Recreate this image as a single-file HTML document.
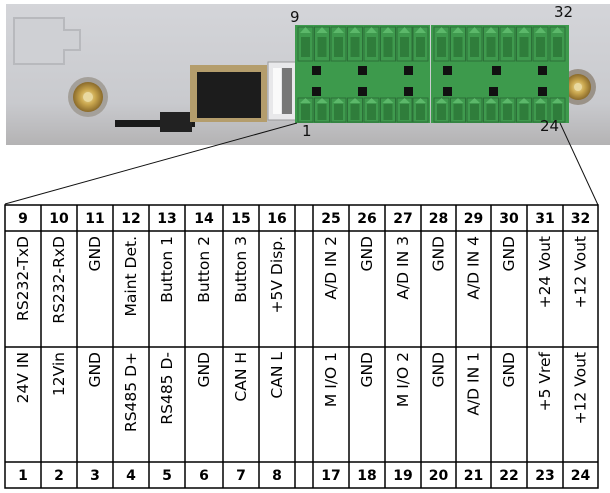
<!DOCTYPE html>
<html><head><meta charset="utf-8"><style>
html,body{margin:0;padding:0;background:#fff;}
svg{display:block;}
</style></head><body>
<svg width="610" height="493" viewBox="0 0 610 493" xmlns="http://www.w3.org/2000/svg" font-family="DejaVu Sans, Liberation Sans, sans-serif">
<defs>
<linearGradient id="bg" x1="0" y1="0" x2="0" y2="1">
<stop offset="0" stop-color="#d4d5d9"/><stop offset="0.7" stop-color="#c9cace"/><stop offset="1" stop-color="#b4b3b4"/>
</linearGradient>
<radialGradient id="sma"><stop offset="0" stop-color="#f3e2a0"/><stop offset="0.5" stop-color="#c9a64e"/><stop offset="1" stop-color="#8a6a2a"/></radialGradient>
<g id="pin"><rect x="0" y="0" width="15" height="34" fill="#3f9a4e" stroke="#2c7038" stroke-width="1"/><polygon points="7.5,0 2,6 13,6" fill="#5cb86a"/><rect x="3" y="10" width="9" height="20" fill="#2f7d3b"/></g>
<g id="pinb"><rect x="0" y="0" width="15" height="24" fill="#3f9a4e" stroke="#2c7038" stroke-width="1"/><polygon points="7.5,0 2,5 13,5" fill="#5cb86a"/><rect x="3" y="6" width="9" height="16" fill="#2f7d3b"/></g>
</defs>
<rect x="6" y="4" width="604" height="141" fill="url(#bg)"/>
<path d="M14,18 h50 v12 h16 v20 h-16 v14 h-50 z" fill="#cfd0d4" stroke="#b8b9bd" stroke-width="2"/>
<circle cx="88" cy="97" r="20" fill="#a4a09a"/>
<circle cx="88" cy="97" r="15" fill="url(#sma)"/><circle cx="88" cy="97" r="5" fill="#e9d9a0"/>
<circle cx="578" cy="87" r="18" fill="#9a9288"/>
<circle cx="578" cy="87" r="13" fill="url(#sma)"/><circle cx="578" cy="87" r="4" fill="#e9d9a0"/>
<rect x="115" y="120" width="80" height="7" fill="#1a1a1a"/>
<rect x="160" y="112" width="32" height="20" fill="#222"/>
<rect x="190" y="65" width="77" height="57" fill="#b49d6c"/>
<rect x="197" y="72" width="64" height="46" fill="#1c1c1c"/>
<rect x="268" y="62" width="28" height="58" fill="#e8e8ea" stroke="#999" stroke-width="1"/>
<rect x="273" y="68" width="8" height="46" fill="#fafafa"/>
<rect x="282" y="68" width="10" height="46" fill="#777"/>
<rect x="295" y="25" width="135" height="98" fill="#3d9a4c"/>
<rect x="431" y="25" width="138" height="98" fill="#3d9a4c"/>
<g>
<use href="#pin" x="298" y="27"/><use href="#pin" x="314.5" y="27"/><use href="#pin" x="331" y="27"/><use href="#pin" x="347.5" y="27"/><use href="#pin" x="364" y="27"/><use href="#pin" x="380.5" y="27"/><use href="#pin" x="397" y="27"/><use href="#pin" x="413" y="27"/>
<use href="#pin" x="434" y="27"/><use href="#pin" x="450.5" y="27"/><use href="#pin" x="467" y="27"/><use href="#pin" x="483.5" y="27"/><use href="#pin" x="500" y="27"/><use href="#pin" x="516.5" y="27"/><use href="#pin" x="533" y="27"/><use href="#pin" x="550" y="27"/>
<use href="#pinb" x="298" y="98"/><use href="#pinb" x="314.5" y="98"/><use href="#pinb" x="331" y="98"/><use href="#pinb" x="347.5" y="98"/><use href="#pinb" x="364" y="98"/><use href="#pinb" x="380.5" y="98"/><use href="#pinb" x="397" y="98"/><use href="#pinb" x="413" y="98"/>
<use href="#pinb" x="434" y="98"/><use href="#pinb" x="450.5" y="98"/><use href="#pinb" x="467" y="98"/><use href="#pinb" x="483.5" y="98"/><use href="#pinb" x="500" y="98"/><use href="#pinb" x="516.5" y="98"/><use href="#pinb" x="533" y="98"/><use href="#pinb" x="550" y="98"/>
</g>
<g fill="#111">
<rect x="312" y="66" width="9" height="9"/><rect x="358" y="66" width="9" height="9"/><rect x="404" y="66" width="9" height="9"/>
<rect x="443" y="66" width="9" height="9"/><rect x="492" y="66" width="9" height="9"/><rect x="538" y="66" width="9" height="9"/>
<rect x="312" y="87" width="9" height="9"/><rect x="358" y="87" width="9" height="9"/><rect x="404" y="87" width="9" height="9"/>
<rect x="443" y="87" width="9" height="9"/><rect x="489" y="87" width="9" height="9"/><rect x="538" y="87" width="9" height="9"/>
</g>
<g font-size="15" fill="#111">
<text x="290" y="22">9</text><text x="554" y="17">32</text>
<text x="302" y="136">1</text><text x="540" y="131">24</text>
</g>
<line x1="5" y1="204" x2="297" y2="123" stroke="#111" stroke-width="1"/>
<line x1="560" y1="123" x2="598" y2="205" stroke="#111" stroke-width="1"/>
<g stroke="#000" stroke-width="1.5" fill="none">
<rect x="5" y="205" width="593" height="283"/>
<line x1="5" y1="231" x2="598" y2="231"/><line x1="5" y1="347" x2="598" y2="347"/><line x1="5" y1="462" x2="598" y2="462"/>
<line x1="41" y1="205" x2="41" y2="488"/><line x1="77" y1="205" x2="77" y2="488"/><line x1="113" y1="205" x2="113" y2="488"/><line x1="149" y1="205" x2="149" y2="488"/><line x1="185" y1="205" x2="185" y2="488"/><line x1="223" y1="205" x2="223" y2="488"/><line x1="259" y1="205" x2="259" y2="488"/><line x1="295" y1="205" x2="295" y2="488"/><line x1="313" y1="205" x2="313" y2="488"/><line x1="349" y1="205" x2="349" y2="488"/><line x1="385" y1="205" x2="385" y2="488"/><line x1="421" y1="205" x2="421" y2="488"/><line x1="456" y1="205" x2="456" y2="488"/><line x1="491" y1="205" x2="491" y2="488"/><line x1="527" y1="205" x2="527" y2="488"/><line x1="563" y1="205" x2="563" y2="488"/>
</g>
<g font-size="14" font-weight="bold" text-anchor="middle" fill="#000">
<text x="23" y="223">9</text><text x="59" y="223">10</text><text x="95" y="223">11</text><text x="131" y="223">12</text><text x="167" y="223">13</text><text x="204" y="223">14</text><text x="241" y="223">15</text><text x="277" y="223">16</text>
<text x="331" y="223">25</text><text x="367" y="223">26</text><text x="403" y="223">27</text><text x="438.5" y="223">28</text><text x="473.5" y="223">29</text><text x="509" y="223">30</text><text x="545" y="223">31</text><text x="580.5" y="223">32</text>
<text x="23" y="480">1</text><text x="59" y="480">2</text><text x="95" y="480">3</text><text x="131" y="480">4</text><text x="167" y="480">5</text><text x="204" y="480">6</text><text x="241" y="480">7</text><text x="277" y="480">8</text>
<text x="331" y="480">17</text><text x="367" y="480">18</text><text x="403" y="480">19</text><text x="438.5" y="480">20</text><text x="473.5" y="480">21</text><text x="509" y="480">22</text><text x="545" y="480">23</text><text x="580.5" y="480">24</text>
</g>
<g font-size="15.5" text-anchor="end" fill="#000">
<text transform="translate(28,236) rotate(-90)">RS232-TxD</text>
<text transform="translate(64,236) rotate(-90)">RS232-RxD</text>
<text transform="translate(100,236) rotate(-90)">GND</text>
<text transform="translate(136,236) rotate(-90)">Maint Det.</text>
<text transform="translate(172,236) rotate(-90)">Button 1</text>
<text transform="translate(209,236) rotate(-90)">Button 2</text>
<text transform="translate(246,236) rotate(-90)">Button 3</text>
<text transform="translate(282,236) rotate(-90)">+5V Disp.</text>
<text transform="translate(336,236) rotate(-90)">A/D IN 2</text>
<text transform="translate(372,236) rotate(-90)">GND</text>
<text transform="translate(408,236) rotate(-90)">A/D IN 3</text>
<text transform="translate(443.5,236) rotate(-90)">GND</text>
<text transform="translate(478.5,236) rotate(-90)">A/D IN 4</text>
<text transform="translate(514,236) rotate(-90)">GND</text>
<text transform="translate(550,236) rotate(-90)">+24 Vout</text>
<text transform="translate(585.5,236) rotate(-90)">+12 Vout</text>
<text transform="translate(28,352) rotate(-90)">24V IN</text>
<text transform="translate(64,352) rotate(-90)">12Vin</text>
<text transform="translate(100,352) rotate(-90)">GND</text>
<text transform="translate(136,352) rotate(-90)">RS485 D+</text>
<text transform="translate(172,352) rotate(-90)">RS485 D-</text>
<text transform="translate(209,352) rotate(-90)">GND</text>
<text transform="translate(246,352) rotate(-90)">CAN H</text>
<text transform="translate(282,352) rotate(-90)">CAN L</text>
<text transform="translate(336,352) rotate(-90)">M I/O 1</text>
<text transform="translate(372,352) rotate(-90)">GND</text>
<text transform="translate(408,352) rotate(-90)">M I/O 2</text>
<text transform="translate(443.5,352) rotate(-90)">GND</text>
<text transform="translate(478.5,352) rotate(-90)">A/D IN 1</text>
<text transform="translate(514,352) rotate(-90)">GND</text>
<text transform="translate(550,352) rotate(-90)">+5 Vref</text>
<text transform="translate(585.5,352) rotate(-90)">+12 Vout</text>
</g>
</svg>
</body></html>
